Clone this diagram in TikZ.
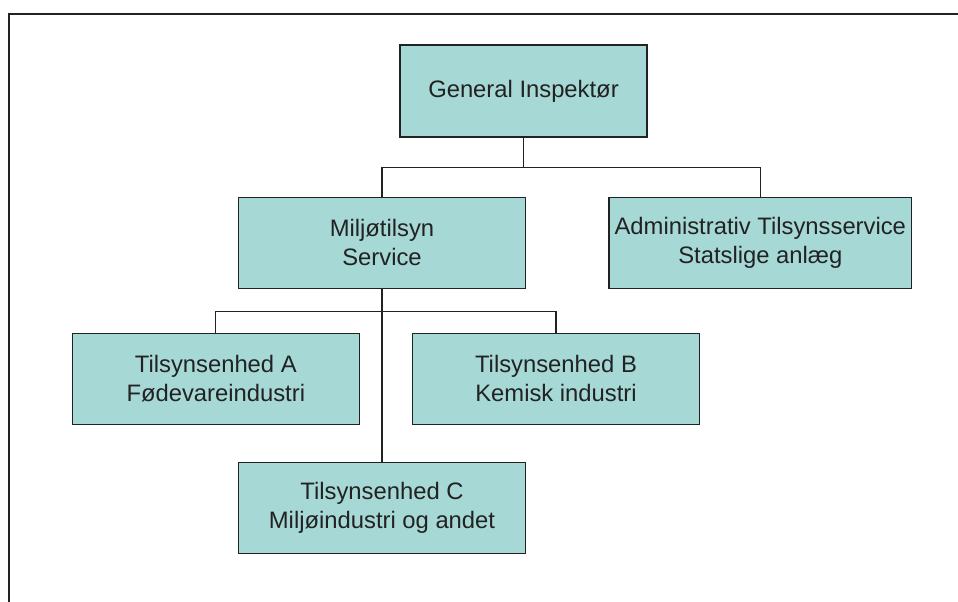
\documentclass[tikz,border=0pt]{standalone}
\usepackage{fontspec}
\setmainfont{Liberation Sans}
\definecolor{boxfill}{RGB}{166,216,214}
\definecolor{ink}{RGB}{34,34,34}
\tikzset{
  unit/.style={draw=ink, line width=1.3pt, fill=boxfill, text=ink,
    align=center, inner sep=0pt, minimum height=91pt,
    font=\fontsize{23.8}{28.8}\selectfont},
  conn/.style={draw=ink, line width=1.1pt},
  frame/.style={draw=ink, line width=2pt}
}
\begin{document}
\begin{tikzpicture}[x=1pt,y=-1pt]
  \useasboundingbox (0,0) rectangle (958,602);
  % page frame: top and left edges only
  \draw[frame] (958,14.2) -- (9,14.2) -- (9,602);

  % units
  \node[unit, minimum width=247pt, minimum height=92pt] (gi)   at (523.5,91)   {General Inspektør};
  \node[unit, minimum width=287.4pt] (milj) at (382,242.8)  {Miljøtilsyn\\Service};
  \node[unit, minimum width=302.7pt] (adm)  at (760.3,242.8) {Administrativ Tilsynsservice\\Statslige anlæg};
  \node[unit, minimum width=287pt]   (ua)   at (215.8,378.8) {Tilsynsenhed A\\Fødevareindustri};
  \node[unit, minimum width=287pt]   (ub)   at (556,378.8)   {Tilsynsenhed B\\Kemisk industri};
  \node[unit, minimum width=287.4pt] (uc)   at (382,507.8)   {Tilsynsenhed C\\Miljøindustri og andet};

  % junction points
  \path (gi.south) ++(0,30) coordinate (j1);
  \path (milj.south) ++(0,22.6) coordinate (j2);

  % connectors
  \draw[conn] (gi.south) -- (j1);
  \draw[conn] (milj.north) |- (j1) -| (adm.north);
  \draw[conn] (milj.south) -- (uc.north);
  \draw[conn] (ua.north) |- (j2) -| (ub.north);
\end{tikzpicture}
\end{document}
